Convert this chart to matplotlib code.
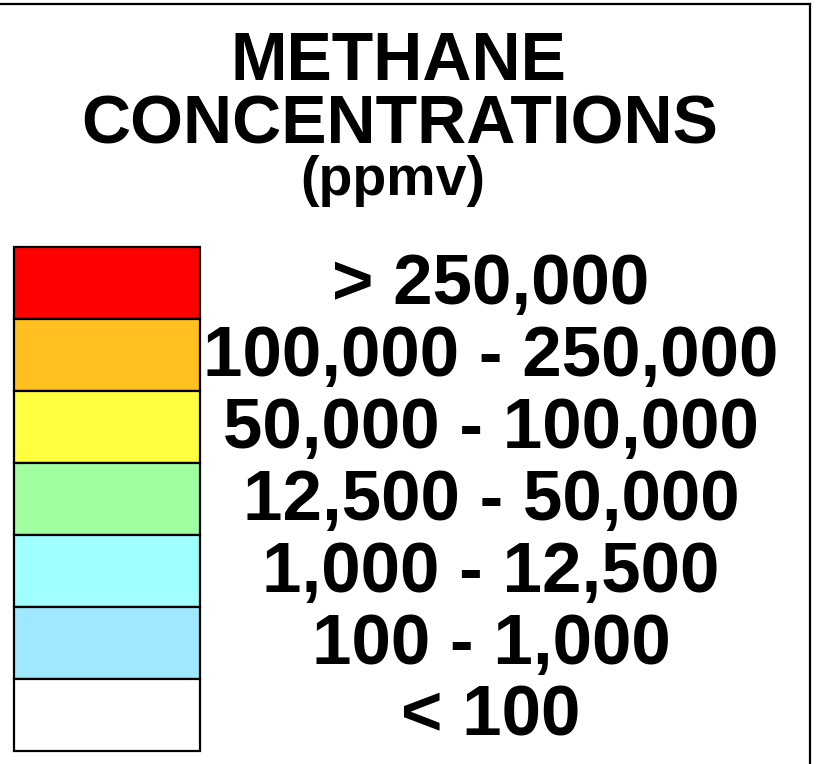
import matplotlib.pyplot as plt
import numpy as np

# legend classes (top to bottom)
labels = ['> 250,000', '100,000 - 250,000', '50,000 - 100,000', '12,500 - 50,000',
          '1,000 - 12,500', '100 - 1,000', '< 100']
colors = ['#FF0000', '#FFC020', '#FFFF40', '#A0FFA0', '#A0FFFF', '#A0E8FF', '#FFFFFF']
title = ['METHANE', 'CONCENTRATIONS']
units = '(ppmv)'

plt.rcParams['font.family'] = ['Liberation Sans', 'DejaVu Sans']

fig = plt.figure(figsize=(8.17, 7.64), dpi=100)
ax = fig.add_axes([0, 0, 1, 1])
ax.set_xlim(0, 817)
ax.set_ylim(764, 0)
ax.axis('off')

# pixel layout of the colour boxes
top = 247
step = 72
ypos = top + step * np.arange(len(labels)) + step / 2

ax.barh(ypos, 186, height=step, left=14, color=colors, edgecolor='black', linewidth=1.6)

for y, lab in zip(ypos, labels):
    ax.text(491, y + 21, lab, ha='center', va='baseline', fontsize=51, fontweight='bold')

ax.text(398, 80, title[0], ha='center', va='baseline', fontsize=49, fontweight='bold')
ax.text(400, 143, title[1], ha='center', va='baseline', fontsize=49, fontweight='bold')
ax.text(393, 195, units, ha='center', va='baseline', fontsize=40, fontweight='bold')

# frame (top and right edges visible)
ax.plot([0, 810], [4, 4], color='black', linewidth=1.6)
ax.plot([810, 810], [4, 764], color='black', linewidth=1.6)

plt.savefig('out.png', dpi=100)
